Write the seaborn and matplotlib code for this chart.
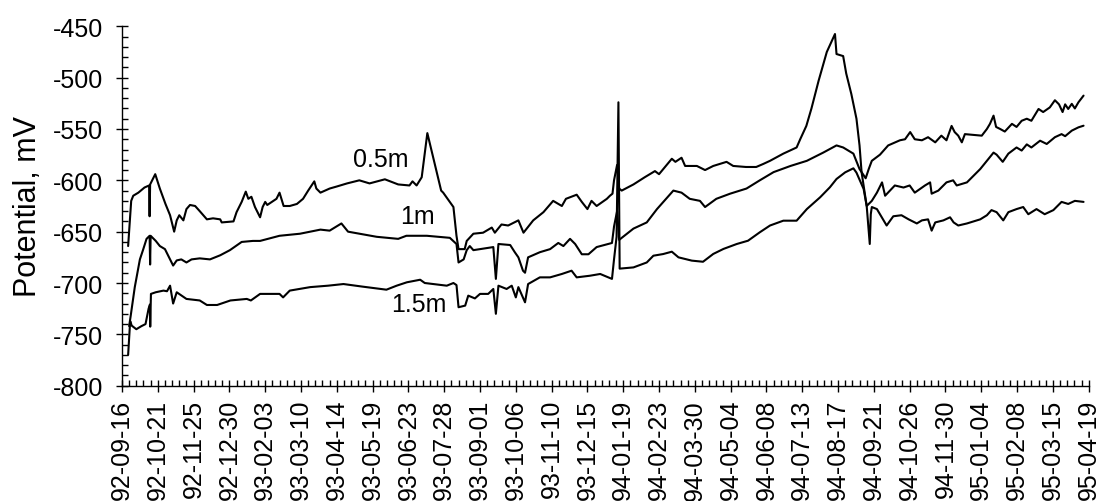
import numpy as np
import pandas as pd
import matplotlib
matplotlib.use("Agg")
import matplotlib.pyplot as plt
import matplotlib.dates as mdates
from matplotlib.ticker import MultipleLocator, FixedLocator
import seaborn as sns

# ---------------- data ----------------
start_date = "1992-09-16"
tick_labels = ["92-09-16", "92-10-21", "92-11-25", "92-12-30", "93-02-03", "93-03-10",
               "93-04-14", "93-05-19", "93-06-23", "93-07-28", "93-09-01", "93-10-06",
               "93-11-10", "93-12-15", "94-01-19", "94-02-23", "94-03-30", "94-05-04",
               "94-06-08", "94-07-13", "94-08-17", "94-09-21", "94-10-26", "94-11-30",
               "95-01-04", "95-02-08", "95-03-15", "95-04-19"]

# days since 1992-09-16 and potential (mV)
days_05 = [6, 9, 11, 16, 22, 26.5, 27, 27.5, 30, 32.5,
           37, 42.5, 47, 51, 53.5, 56, 60, 63, 66.5, 71.5,
           76, 83, 89, 96, 97.5, 109, 112, 117, 121, 123.5,
           126.5, 130, 135, 137.5, 140, 142, 148, 151, 154, 158,
           164, 171, 177, 182, 188, 190, 194, 203, 210, 220,
           232, 242, 257, 270, 281, 284, 288, 293, 298.5, 312,
           314, 324, 327, 329, 335, 337, 343.5, 353, 361.5, 364.5,
           371, 377.5, 387.5, 392.5, 402, 412, 421.5, 430, 434, 444.5,
           449.5, 455, 459, 464, 474, 477, 479.5, 481, 484, 486,
           488.5, 500, 511, 521, 525, 537.5, 541, 547, 550.5, 555,
           562, 570, 578, 591, 597.5, 610, 620, 627, 633.5, 646.5,
           659.5, 663, 669, 674, 681, 689, 697, 698.5, 705, 708,
           713, 718, 721, 723, 726, 728, 731, 732, 733, 738,
           744, 747.5, 754, 762, 769, 777, 782, 788, 791.5, 795,
           803, 809.5, 813, 817.5, 826, 839, 845.5, 850, 855, 861.5,
           866.5, 874.5, 881, 886, 894, 902, 910.5, 918.5, 925, 931.5,
           940]
mv_05 = [-664, -620, -615, -612, -607, -605, -635, -604, -599, -594,
         -608, -623, -634, -650, -639, -634, -639, -628, -624, -625,
         -630, -638, -637, -638, -641, -640, -631, -621, -611, -618,
         -616, -626, -636, -626, -621, -624, -620, -618, -612, -625,
         -625, -623, -618, -610, -601, -608, -612, -608, -606, -603,
         -600, -603, -599, -604, -605, -601, -605, -597, -554, -610,
         -612, -626, -654, -667, -667, -659, -652, -651, -646, -651,
         -643, -644, -639, -651, -639, -631, -620, -625, -618, -614,
         -621, -628, -620, -625, -618, -615, -613, -600, -585, -608,
         -610, -604, -597, -591, -594, -579, -582, -578, -586, -586,
         -586, -590, -586, -582, -586, -587, -587, -584, -581, -574,
         -568, -560, -547, -530, -503, -475, -457.5, -477, -479, -496,
         -516, -540, -566, -592, -612, -625, -662, -633, -626, -628,
         -638, -644, -635, -634, -638, -642, -639, -638, -649, -641,
         -639, -636, -641, -644, -642, -638, -634, -629, -631, -639,
         -631, -628, -626, -633, -628, -633, -629, -621, -623, -620,
         -621]

days_1 = [7, 8.5, 12.5, 17.5, 20.5, 24, 27, 27.5, 28, 33,
          37, 42, 45, 50, 53.5, 58, 63, 68, 76, 86,
          96, 105.5, 117, 128, 135, 154, 174, 184, 194, 203,
          214.5, 221, 249, 270, 278, 298, 320.5, 327, 329, 334,
          337, 340, 343.5, 350, 363, 365.5, 368, 379.5, 384, 387.5,
          392, 394, 397, 408.5, 418.5, 426.5, 431.5, 438, 443, 449.5,
          456, 464, 479, 481, 484, 486, 500, 513, 523, 539,
          547, 555, 565, 570, 581, 594.5, 610.5, 623.5, 637, 653.5,
          669.5, 685.5, 698.5, 705, 715, 721, 727, 730, 733, 741,
          749, 756, 760.5, 765.5, 770.5, 775, 782, 788, 795, 801,
          806, 811, 814, 817.5, 821, 824, 840.5, 845.5, 848.5, 852,
          854.5, 858.5, 863, 870, 874.5, 879.5, 884.5, 889, 896, 900.5,
          907, 912, 916, 919.5, 922, 925, 928.5, 931.5, 935, 940]
mv_1 = [-742, -732, -704, -677, -668, -657, -654, -682, -654, -659,
        -664, -667, -673, -683, -678, -677, -680, -677, -676, -677,
        -673, -668, -660, -659, -659, -654, -652, -650, -648, -649,
        -642, -650, -655, -657, -654, -654, -656, -662, -680, -677,
        -668, -664, -668, -667, -665, -696, -662, -663, -670, -675,
        -688, -690, -675, -670, -667, -661, -664, -657, -662, -672,
        -672, -665, -661, -645, -630, -658, -647, -641, -628, -610,
        -612, -618, -620, -626, -618, -613, -608, -600, -592, -586,
        -581, -573, -566, -568, -574, -589, -598, -589, -581, -575,
        -566, -563, -561, -560, -553, -560, -561, -558, -563, -556.5,
        -561, -547, -553, -556.5, -563, -555, -556.5, -550, -545, -537,
        -548, -550, -552.5, -545, -548, -542, -540, -542, -530.5, -533.5,
        -529, -522, -526, -533.5, -526, -530.5, -525.5, -530, -524, -517.5]

days_15 = [6, 8, 9.5, 14, 19, 23, 26, 27.3, 27.6, 28.3,
           33, 40.5, 44, 47, 50, 53.5, 63, 76, 83, 93,
           106, 122, 126, 135, 154, 157.5, 164, 184, 201.5, 216.5,
           235, 258.5, 268.5, 278.5, 291.5, 296, 317.5, 324, 327, 329,
           335.5, 338.5, 345, 350, 358, 363, 365.5, 368, 376, 381,
           385, 387.5, 394, 397, 408.5, 418.5, 430, 439.5, 444.5, 457.5,
           467.5, 479, 481, 483.5, 485.3, 486.5, 500, 513, 519.5, 529,
           537.5, 544, 557, 568, 578, 588, 601, 612, 623.5, 633.5,
           646.5, 659.5, 669.5, 682.5, 692, 698.5, 707, 715, 718, 725,
           728, 733, 738, 743, 746, 755.5, 764, 770, 775, 785,
           790, 791.5, 798, 806, 812.5, 816, 826, 839, 845.5, 852,
           855, 861, 866.5, 874.5, 879.5, 884.5, 889, 897.5, 904, 912,
           918.5, 922, 928.5, 935, 940]
mv_15 = [-770, -737, -741.5, -745, -742, -740, -725, -721, -742.5, -710.6,
         -709, -707.4, -708, -702.6, -720, -709, -715.5, -717, -721.4, -721.4,
         -717, -715.5, -717, -710.6, -710.6, -714, -707.4, -704, -702.6, -701,
         -703.5, -706.5, -702.6, -699.3, -696.8, -700, -702.6, -700, -702, -723.6,
         -722, -712.3, -715, -710.6, -710.6, -705.8, -730, -702.6, -705.8, -702.6,
         -714, -704, -718.8, -701, -694.5, -694.5, -691.2, -688, -694.5, -692.9,
         -691.2, -696, -677, -655, -524, -686, -684.8, -680, -673.4, -671.8,
         -669.5, -675, -678.2, -679.3, -671.7, -666.8, -662, -658.8, -650.6, -644,
         -639.3, -639.3, -628, -616.5, -606.8, -598.7, -592.2, -588.3, -592.5, -608.4,
         -625, -620, -612, -602, -615, -605, -607, -605, -612, -605,
         -602, -613, -610, -602, -600, -605, -602, -589, -581, -573,
         -575, -582, -574, -568, -571, -565, -568, -561.4, -564.6, -558,
         -555, -557, -551.6, -548.4, -546.8]

series_names = ["0.5m", "1m", "1.5m"]
label_days = [252.5, 289, 290]
label_mv = [-579, -634.5, -720]

# ---------------- build table ----------------
t0 = pd.Timestamp(start_date)
frames = []
for name, d, v in zip(series_names, [days_05, days_1, days_15], [mv_05, mv_1, mv_15]):
    frames.append(pd.DataFrame({
        "date": t0 + pd.to_timedelta(np.asarray(d, dtype=float), unit="D"),
        "mV": v,
        "depth": name,
    }))
df = pd.concat(frames, ignore_index=True)
tick_dates = pd.to_datetime(["19" + t for t in tick_labels])

# ---------------- style ----------------
sns.set_style("ticks")
plt.rcParams["font.family"] = ["Liberation Sans", "DejaVu Sans"]
plt.rcParams["axes.unicode_minus"] = False

fig, ax = plt.subplots(figsize=(11.01, 5.02), dpi=100)
fig.subplots_adjust(left=0.1108, right=0.9888, bottom=0.2297, top=0.9456)

sns.lineplot(data=df, x="date", y="mV", hue="depth", palette=["black"] * 3,
             estimator=None, sort=False, legend=False, linewidth=1.5, ax=ax)

for name, d, v in zip(series_names, label_days, label_mv):
    ax.text(t0 + pd.Timedelta(days=d), v, name, ha="center", va="center",
            fontsize=18, color="black")

ax.set_ylim(-800, -450)
ax.yaxis.set_major_locator(MultipleLocator(50))
ax.yaxis.set_minor_locator(MultipleLocator(10))

ax.set_xlim(tick_dates[0], tick_dates[-1])
ax.xaxis.set_major_locator(FixedLocator(mdates.date2num(tick_dates)))
ax.xaxis.set_minor_locator(mdates.WeekdayLocator(byweekday=mdates.WE))
ax.set_xticklabels(tick_labels, rotation=90)

ax.tick_params(axis="both", which="major", direction="inout", length=9, width=1,
               color="black", labelsize=18, labelcolor="black")
ax.tick_params(axis="y", which="major", pad=9)
ax.tick_params(axis="x", which="major", pad=5)
ax.tick_params(axis="both", which="minor", direction="in", length=4.5, width=1,
               color="black")

for side in ["top", "right"]:
    ax.spines[side].set_visible(False)
for side in ["left", "bottom"]:
    ax.spines[side].set_color("black")
    ax.spines[side].set_linewidth(1)

ax.set_xlabel("")
ax.set_ylabel("Potential, mV", fontsize=22, color="black")
ax.yaxis.set_label_coords(-0.082, 0.5)

fig.savefig("out.png", dpi=100, facecolor="white")
